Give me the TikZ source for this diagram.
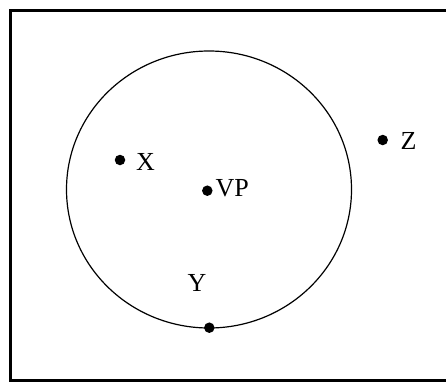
\documentclass[tikz,border=0pt]{standalone}
\usepackage{fontspec}
\setmainfont{Liberation Serif}
\usepackage{tikz}
\usetikzlibrary{positioning}
\tikzset{
  dot/.style={circle,fill=black,inner sep=0pt,minimum size=10.5pt},
  lbl/.style={inner sep=0pt,font=\fontsize{26}{30}\selectfont}
}

\begin{document}
\begin{tikzpicture}[x=1pt,y=-1pt]
  \useasboundingbox (0,0) rectangle (446,383);
  \clip (0,0) rectangle (446,383);
  \draw[line width=3pt] (10.3,10.3) rectangle (460,380.5);
  \draw[line width=1.2pt] (209,189.5) ellipse (142.5 and 138.5);
  % points
  \node[dot] (x) at (120,160) {};
  \node[dot] (vp) at (207.3,190.7) {};
  \node[dot] (y) at (209.3,327.7) {};
  \node[dot] (z) at (382.7,140) {};
  % labels
  \node[lbl,anchor=base west] (xl) at (136,170.6) {X};
  \node[lbl,anchor=base west] (vpl) at (215.5,196.6) {VP};
  \node[lbl,anchor=base] (yl) at (197,291.6) {Y};
  \node[lbl,anchor=base west] (zl) at (400.5,149.6) {Z};
\end{tikzpicture}
\end{document}
